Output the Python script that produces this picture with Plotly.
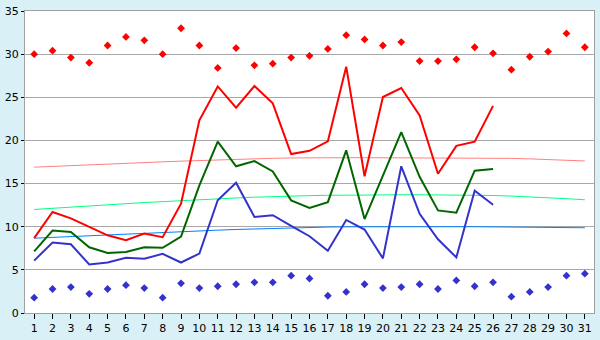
import plotly.graph_objects as go

days = list(range(1, 32))
line_days = list(range(1, 27))

daily_max = [8.67, 11.7, 10.96, 10.0, 9.0, 8.44, 9.22, 8.78, 12.67, 22.33,
             26.26, 23.8, 26.3, 24.3, 18.42, 18.8, 19.9, 28.55, 15.85, 25.03,
             26.07, 22.9, 16.14, 19.37, 19.85, 24.0]
daily_mean = [7.14, 9.55, 9.4, 7.62, 6.96, 7.07, 7.62, 7.55, 8.85, 14.8,
              19.85, 17.0, 17.6, 16.4, 13.05, 12.18, 12.85, 18.85, 10.89, 15.9,
              20.96, 15.78, 11.89, 11.63, 16.5, 16.7]
daily_min = [6.07, 8.18, 7.96, 5.63, 5.85, 6.4, 6.29, 6.85, 5.85, 6.89,
             13.07, 15.1, 11.14, 11.33, 10.1, 8.9, 7.22, 10.78, 9.67, 6.33,
             17.0, 11.5, 8.55, 6.44, 14.18, 12.55]

record_max = [30.0, 30.4, 29.6, 29.0, 31.0, 32.0, 31.6, 30.0, 33.0, 31.0,
              28.4, 30.7, 28.7, 28.9, 29.6, 29.8, 30.6, 32.2, 31.7, 31.0,
              31.4, 29.2, 29.2, 29.4, 30.8, 30.1, 28.2, 29.7, 30.3, 32.4, 30.8]
record_min = [1.78, 2.78, 3.0, 2.22, 2.78, 3.22, 2.89, 1.78, 3.44, 2.89,
              3.1, 3.33, 3.56, 3.56, 4.33, 4.0, 2.0, 2.44, 3.33, 2.89,
              3.0, 3.33, 2.78, 3.78, 3.1, 3.56, 1.89, 2.44, 3.0, 4.33, 4.56]

normal_max = [16.9, 17.0, 17.08, 17.17, 17.26, 17.35, 17.44, 17.52, 17.6, 17.68,
              17.76, 17.83, 17.88, 17.93, 17.97, 18.0, 18.0, 18.0, 18.0, 18.0,
              18.0, 18.0, 18.0, 18.0, 18.0, 17.97, 17.92, 17.86, 17.78, 17.7, 17.62]
normal_mean = [12.0, 12.15, 12.3, 12.43, 12.55, 12.67, 12.8, 12.92, 13.05, 13.15,
               13.25, 13.33, 13.42, 13.5, 13.55, 13.6, 13.64, 13.67, 13.68, 13.7,
               13.7, 13.7, 13.7, 13.7, 13.68, 13.62, 13.55, 13.47, 13.37, 13.25, 13.12]
normal_min = [8.67, 8.77, 8.87, 8.97, 9.07, 9.17, 9.27, 9.37, 9.46, 9.55,
              9.6, 9.68, 9.75, 9.81, 9.87, 9.92, 9.96, 9.99, 10.0, 10.0,
              10.0, 10.0, 10.0, 10.0, 10.0, 9.98, 9.96, 9.94, 9.92, 9.9, 9.88]

y_ticks = [0, 5, 10, 15, 20, 25, 30, 35]

fig = go.Figure()

# normals (thin)
fig.add_trace(go.Scatter(x=days, y=normal_max, mode="lines",
                         line=dict(color="#ff8080", width=1), hoverinfo="skip"))
fig.add_trace(go.Scatter(x=days, y=normal_mean, mode="lines",
                         line=dict(color="#00ff80", width=1), hoverinfo="skip"))
fig.add_trace(go.Scatter(x=days, y=normal_min, mode="lines",
                         line=dict(color="#0080ff", width=1), hoverinfo="skip"))

# daily values
fig.add_trace(go.Scatter(x=line_days, y=daily_max, mode="lines",
                         line=dict(color="#ff0000", width=2)))
fig.add_trace(go.Scatter(x=line_days, y=daily_mean, mode="lines",
                         line=dict(color="#006600", width=2)))
fig.add_trace(go.Scatter(x=line_days, y=daily_min, mode="lines",
                         line=dict(color="#3333cc", width=2)))

# records
fig.add_trace(go.Scatter(x=days, y=record_max, mode="markers",
                         marker=dict(symbol="diamond", size=6, color="#ff0000")))
fig.add_trace(go.Scatter(x=days, y=record_min, mode="markers",
                         marker=dict(symbol="diamond", size=6, color="#3333cc")))

fig.update_layout(
    width=600, height=340,
    margin=dict(l=20, r=5, t=5, b=20),
    paper_bgcolor="#d9f0f7",
    plot_bgcolor="#ffffff",
    showlegend=False,
    font=dict(family="DejaVu Sans", size=11, color="#000000"),
)
fig.update_xaxes(
    range=[0.5, 31.5], tickmode="array", tickvals=days,
    ticktext=[str(d) for d in days],
    showgrid=False, zeroline=False,
    showline=True, linecolor="#a0a0a0", linewidth=1, mirror=True,
    ticks="outside", ticklen=5, tickcolor="#000000",
    ticklabeloverflow="allow",
)
fig.update_yaxes(
    range=[0, 35], tickmode="array", tickvals=y_ticks,
    ticktext=[str(v) for v in y_ticks],
    showgrid=True, gridcolor="#a8a8a8", gridwidth=1, zeroline=False,
    showline=True, linecolor="#a0a0a0", linewidth=1, mirror=True,
    ticks="outside", ticklen=3, tickcolor="#000000",
    ticklabeloverflow="allow",
)

fig.write_html("out.html")
